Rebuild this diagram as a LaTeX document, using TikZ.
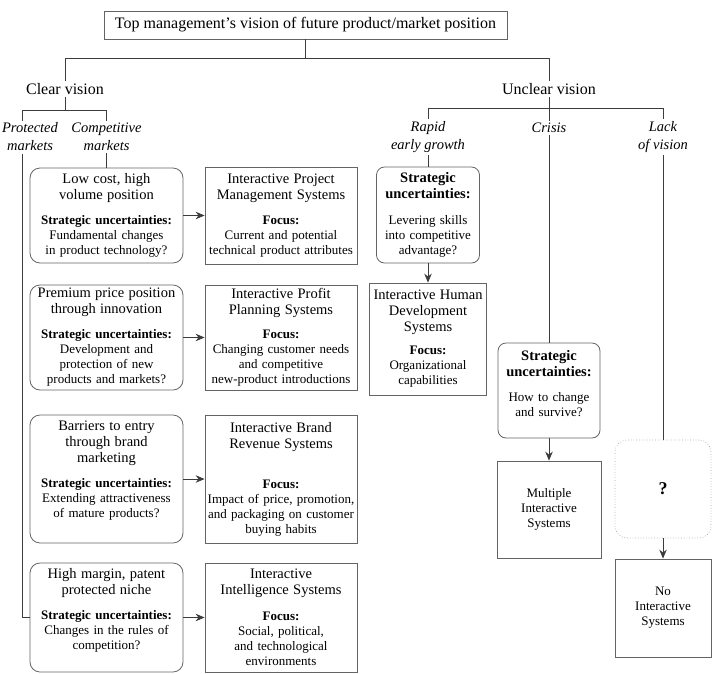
\documentclass[tikz,border=0pt]{standalone}
\usepackage{fontspec}
\setmainfont{Liberation Serif}
\usetikzlibrary{arrows.meta}
\definecolor{linegray}{RGB}{60,60,60}
\definecolor{boxgray}{RGB}{100,100,100}
\definecolor{dotgray}{RGB}{165,165,165}
\newcommand{\ttl}{\fontsize{14.5}{16}\selectfont}
\newcommand{\bdy}{\fontsize{13}{15}\selectfont}
\setlength{\parindent}{0pt}

\begin{document}
\begin{tikzpicture}[x=1pt,y=-1pt,>={Stealth[length=9pt,width=7.5pt]},line width=0.8pt]

%
% Styles
%
\tikzstyle{heading} = [font=\fontsize{16}{18}\selectfont,inner sep=2pt]
\tikzstyle{branch} = [font=\fontsize{14.5}{18}\selectfont\itshape,align=center,inner sep=2pt]
\tikzstyle{optbox} = [rectangle,rounded corners=10pt,draw=boxgray,font=\bdy,align=center,inner xsep=2pt,inner ysep=0pt]
\tikzstyle{sysbox} = [rectangle,draw=boxgray,font=\bdy,align=center,inner xsep=2pt,inner ysep=0pt]
\tikzstyle{link} = [draw=linegray]

\useasboundingbox (0,0) rectangle (712,673);

\node[draw=boxgray,heading,minimum width=403pt,minimum height=28pt] (top) at (305.5,25)
  {Top management's vision of future product/market position};

\node[heading] (clear)   at ( 65, 89) {Clear vision};
\node[heading] (unclear) at (549, 89) {Unclear vision};

\coordinate (protx) at (22,0);
\node[branch] (prot)   at ( 30  ,137) {Protected\\markets};
\node[branch] (comp)   at (106.5,137) {Competitive\\markets};
\node[branch] (rapid)  at (428  ,137) {Rapid\\early growth};
\node[branch] (crisis) at (549  ,128) {Crisis};
\node[branch] (lack)   at (663  ,137) {Lack\\of vision};

% clear vision: business strategies
\node[optbox,text width=149pt,minimum height=95pt] (lowcost) at (106.5,215.5)
  {{\ttl Low cost, high\\volume position\par}\vspace{10pt}\textbf{Strategic uncertainties:}\\Fundamental changes\\in product technology?};
\node[optbox,text width=149pt,minimum height=105pt] (premium) at (106.5,337.5)
  {{\ttl Premium price position\\through innovation\par}\vspace{10pt}\textbf{Strategic uncertainties:}\\Development and\\protection of new\\products and markets?};
\node[optbox,text width=149pt,minimum height=128pt] (barrier) at (106.5,479)
  {{\ttl Barriers to entry\\through brand\\marketing\par}\vspace{10pt}\textbf{Strategic uncertainties:}\\Extending attractiveness\\of mature products?\\[5pt]\mbox{}};
\node[optbox,text width=149pt,minimum height=109pt] (niche) at (106.5,617.5)
  {{\ttl High margin, patent\\protected niche\par}\vspace{10pt}\textbf{Strategic uncertainties:}\\Changes in the rules of\\competition?\\[2pt]\mbox{}};

% clear vision: interactive systems
\node[sysbox,text width=148pt,minimum height=97pt] (project) at (281,215.5)
  {{\ttl Interactive Project\\Management Systems\par}\vspace{10pt}\textbf{Focus:}\\Current and potential\\technical product attributes};
\node[sysbox,text width=148pt,minimum height=105pt] (profit) at (281,337.5)
  {{\ttl Interactive Profit\\Planning Systems\par}\vspace{9pt}\textbf{Focus:}\\Changing customer needs\\and competitive\\new-product introductions};
\node[sysbox,text width=148pt,minimum height=128pt] (brand) at (281,479)
  {{\ttl Interactive Brand\\Revenue Systems\par}\vspace{25pt}\textbf{Focus:}\\Impact of price, promotion,\\and packaging on customer\\buying habits};
\node[sysbox,text width=148pt,minimum height=109pt] (intel) at (281,617.5)
  {{\ttl Interactive\\Intelligence Systems\par}\vspace{11pt}\textbf{Focus:}\\Social, political,\\and technological\\environments};

% unclear vision
\node[optbox,rounded corners=8pt,text width=99pt,minimum height=96pt] (rapidsu) at (428,215)
  {{\ttl\bfseries Strategic\\uncertainties:\par}\vspace{11pt}Levering skills\\into competitive\\advantage?};
\node[sysbox,text width=113pt,minimum height=112pt] (human) at (428,339)
  {{\ttl Interactive Human\\Development\\Systems\par}\vspace{8pt}\textbf{Focus:}\\Organizational\\capabilities};
\node[optbox,rounded corners=8pt,text width=98pt,minimum height=95pt] (crisissu) at (549,390.5)
  {{\ttl\bfseries Strategic\\uncertainties:\par}\vspace{10pt}How to change\\and survive?\\[0pt]\mbox{}};
\node[sysbox,text width=100pt,minimum height=97pt] (multiple) at (549,509.5)
  {Multiple\\Interactive\\Systems};
\node[rectangle,rounded corners=12pt,draw=dotgray,dotted,line width=0.7pt,minimum width=96pt,minimum height=98pt,font=\fontsize{18}{20}\selectfont\bfseries] (lackq) at (663,489) {?};
\node[sysbox,text width=92pt,minimum height=98pt] (none) at (663,608)
  {No\\Interactive\\Systems};

% tree
\draw[link] (top.south) -- ++(0,19) -| (clear.north);
\draw[link] (top.south) ++(0,19) -| (unclear.north);
\draw[link] (clear.south) -- ++(0,13) -| (prot.north -| protx);
\draw[link] (clear.south) ++(0,13) -| (comp.north);
\draw[link] (comp.south) -- (lowcost.north);
\draw[link] (prot.south -| protx) |- (niche.west);
\draw[link] (unclear.south) -- (crisis.north);
\draw[link] (unclear.south) ++(0,11.5) -| (rapid.north);
\draw[link] (unclear.south) ++(0,11.5) -| (lack.north);
\draw[link] (rapid.south) -- (rapidsu.north);
\draw[link] (crisis.south) -- (crisissu.north);
\draw[link] (lack.south) -- (lackq.north);

% arrows
\draw[link,->] (lowcost) -- (project);
\draw[link,->] (premium) -- (profit);
\draw[link,->] (barrier) -- (brand);
\draw[link,->] (niche) -- (intel);
\draw[link,->] (rapidsu) -- (human);
\draw[link,->] (crisissu) -- (multiple);
\draw[link,->] (lackq) -- (none);

\end{tikzpicture}
\end{document}
